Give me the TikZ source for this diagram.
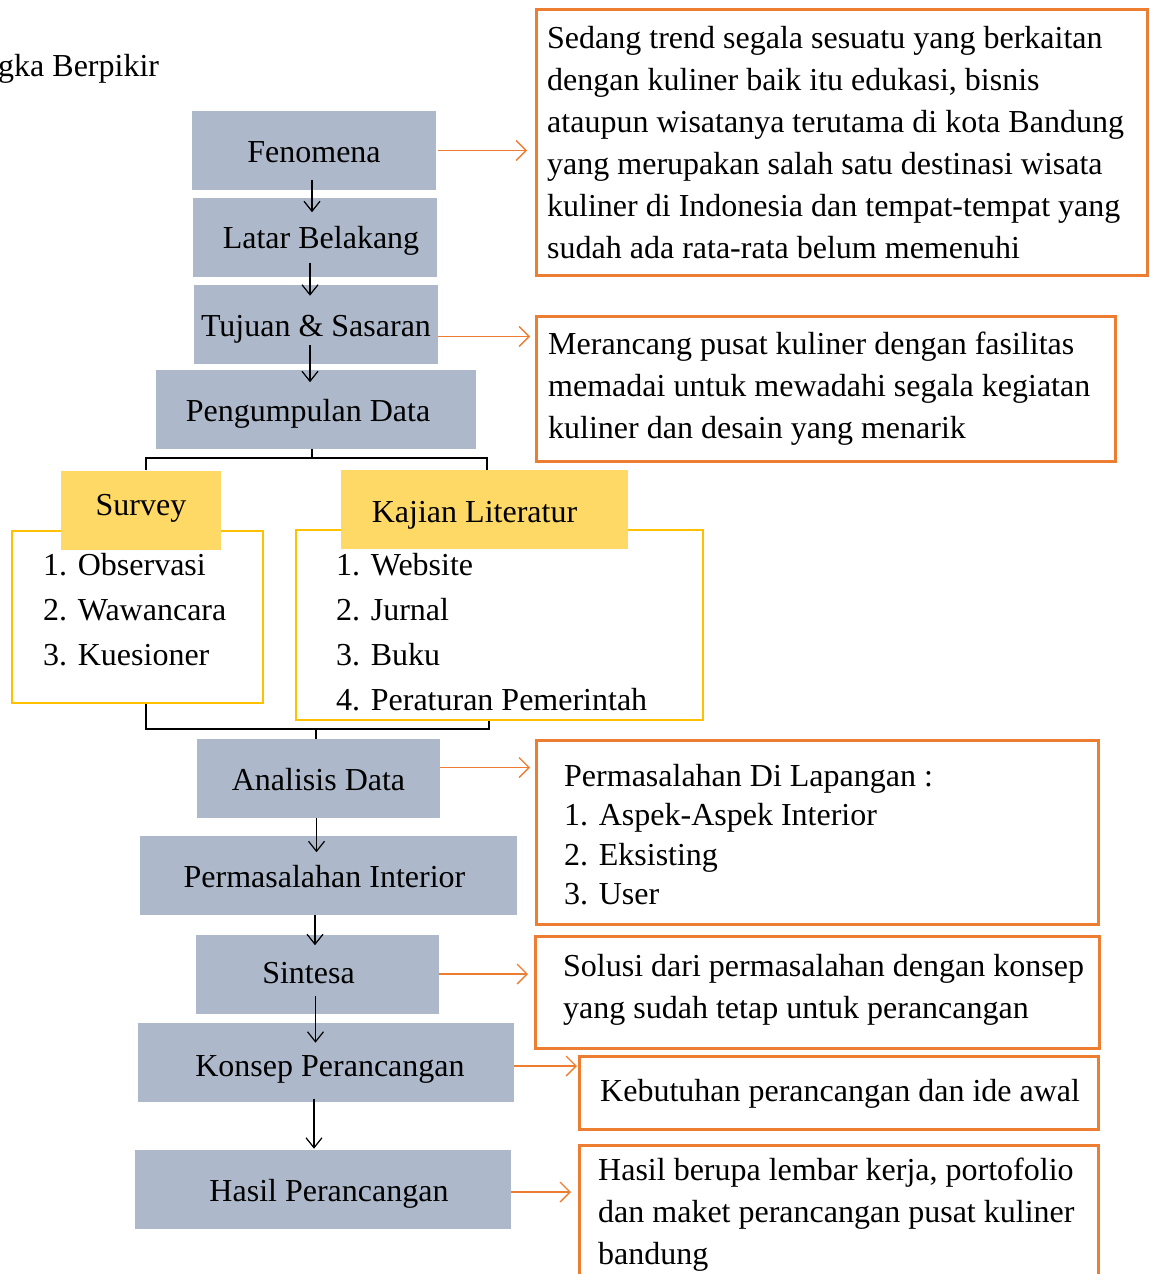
\documentclass[tikz,border=0pt]{standalone}
\usepackage{fontspec}
\setmainfont{Liberation Serif}
\usetikzlibrary{arrows.meta, calc}

\definecolor{grayblue}{HTML}{ADB9CA}
\definecolor{yellowfill}{HTML}{FFD966}
\definecolor{yellowline}{HTML}{FFC000}
\definecolor{orangeline}{HTML}{ED7D31}

\begin{document}
\begin{tikzpicture}[x=1pt,y=-1pt,font=\fontsize{32}{42}\selectfont,
  graybox/.style={fill=grayblue, minimum height=79pt, inner sep=0pt, text height=30pt, text depth=7pt},
  headbox/.style={fill=yellowfill, minimum height=79pt, inner sep=0pt},
  listbox/.style={draw=yellowline, line width=2pt, anchor=north west, inner sep=0pt},
  descbox/.style={draw=orangeline, line width=2.5pt, anchor=north west, inner sep=0pt},
  desctext/.style={anchor=base west, align=left, inner sep=0pt},
  listtext/.style={anchor=base west, align=left, inner sep=0pt, font=\fontsize{32}{45}\selectfont},
  down/.style={-{Straight Barb[length=10pt,width=16pt]}, line width=1.2pt},
  side/.style={draw=orangeline, -{Straight Barb[length=10pt,width=20pt]}, line width=1.3pt},
  bracket/.style={line width=2pt}]
\useasboundingbox (0,0) rectangle (1150,1274);
\clip (0,0) rectangle (1150,1274);

\node[anchor=base west, inner sep=0pt] (title) at (-2,76) {gka Berpikir};

% alur utama
\node[graybox, minimum width=244pt] (fen) at (314,150.5) {Fenomena};
\node[graybox, minimum width=244pt] (lb) at (315,237) {\kern12pt Latar Belakang};
\node[graybox, minimum width=244pt] (ts) at (316,324.5) {Tujuan \& Sasaran};
\node[graybox, minimum width=320pt] (pd) at (316,409.5) {Pengumpulan Data\kern16pt};
\node[graybox, minimum width=243pt] (ad) at (318.5,778.5) {Analisis Data};
\node[graybox, minimum width=377pt] (pi) at (328.5,875.5) {Permasalahan Interior\kern8pt};
\node[graybox, minimum width=243pt, text height=26pt] (si) at (317.5,974) {Sintesa\kern18pt};
\node[graybox, minimum width=376pt, text height=35pt] (kp) at (326,1062) {\kern8pt Konsep Perancangan};
\node[graybox, minimum width=376pt] (hp) at (323,1189.5) {\kern12pt Hasil Perancangan};

\draw[down] ($(fen.south)+(-2,-10)$) -- ++(0,32);
\draw[down] ($(lb.south)+(-5,-14)$) -- ++(0,33);
\draw[down] ($(ts.south)+(-6,-19)$) -- ++(0,37);
\draw[down] ($(ad.south)+(-2,0)$) -- ++(0,34);
\draw[down] (pi.south -| 315,0) -- ++(0,30);
\draw[down] ($(si.south)+(-2,-18)$) -- ++(0,47);
\draw[down] ($(kp.south)+(-12,-3)$) -- ++(0,50);

% survey & kajian
\node[listbox, minimum width=251pt, minimum height=172pt] (svbox) at (11,530) {};
\node[listbox, minimum width=407pt, minimum height=190pt] (kjbox) at (295,529) {};
\node[headbox, minimum width=160pt, text height=20pt, text depth=10pt] (sv) at (141,510) {Survey};
\node[headbox, minimum width=287pt, text height=30pt, text depth=5pt] (kj) at (484.5,509.5) {Kajian Literatur\kern20pt};
\node[listtext] (svlist) at (43,665) {1. Observasi\\2. Wawancara\\3. Kuesioner};
\node[listtext] (kjlist) at (336,710) {1. Website\\2. Jurnal\\3. Buku\\4. Peraturan Pemerintah};

\coordinate (splitL) at (146,458);
\coordinate (splitR) at (487,458);
\coordinate (joinL) at (146,729);
\coordinate (joinR) at (489,729);
\draw[bracket] (pd.south -| 312,0) -- (splitL -| 312,0);
\draw[bracket] (splitL |- sv.north) -- (splitL) -- (splitR) -- (splitR |- kj.north);
\draw[bracket] (joinL |- svbox.south) -- (joinL) -- (joinR) -- (joinR |- kjbox.south);
\draw[bracket] (joinL -| 316,0) -- (ad.north -| 316,0);

% keterangan
\node[descbox, minimum width=611pt, minimum height=266pt] (d1) at (535,8) {};
\node[desctext] (t1) at (547,258) {Sedang trend segala sesuatu yang berkaitan\\dengan kuliner baik itu edukasi, bisnis\\ataupun wisatanya terutama di kota Bandung\\yang merupakan salah satu destinasi wisata\\kuliner di Indonesia dan tempat-tempat yang\\sudah ada rata-rata belum memenuhi};
\node[descbox, minimum width=579pt, minimum height=145pt] (d2) at (535,315) {};
\node[desctext] (t2) at (548,438) {Merancang pusat kuliner dengan fasilitas\\memadai untuk mewadahi segala kegiatan\\kuliner dan desain yang menarik};
\node[descbox, minimum width=562pt, minimum height=184pt] (d3) at (535,739) {};
\node[listtext, font=\fontsize{32}{39.5}\selectfont] (t3) at (564,904.5) {Permasalahan Di Lapangan :\\1. Aspek-Aspek Interior\\2. Eksisting\\3. User};
\node[descbox, minimum width=564pt, minimum height=112pt] (d4) at (534,935) {};
\node[desctext] (t4) at (563,1018) {Solusi dari permasalahan dengan konsep\\yang sudah tetap untuk perancangan};
\node[descbox, minimum width=519pt, minimum height=73pt] (d5) at (578,1055) {};
\node[desctext] (t5) at (600,1101) {Kebutuhan perancangan dan ide awal};
\node[descbox, minimum width=519pt, minimum height=160pt] (d6) at (578,1144) {};
\node[desctext] (t6) at (598,1264) {Hasil berupa lembar kerja, portofolio\\dan maket perancangan pusat kuliner\\bandung};

\draw[side, shorten >=8pt] ($(fen.east)+(2,0)$) -- (fen.east -| d1.west);
\draw[side, shorten >=5pt] ([yshift=-12pt]ts.east) -- ([yshift=-12pt]ts.east -| d2.west);
\draw[side, shorten >=5pt] ([yshift=11pt]ad.east) -- ([yshift=11pt]ad.east -| d3.west);
\draw[side, shorten >=6pt] (si.east) -- (si.east -| d4.west);
\draw[side, shorten >=1pt] ([yshift=-4pt]kp.east) -- ([yshift=-4pt]kp.east -| d5.west);
\draw[side, shorten >=7pt] ([yshift=-2.5pt]hp.east) -- ([yshift=-2.5pt]hp.east -| d6.west);
\end{tikzpicture}
\end{document}
